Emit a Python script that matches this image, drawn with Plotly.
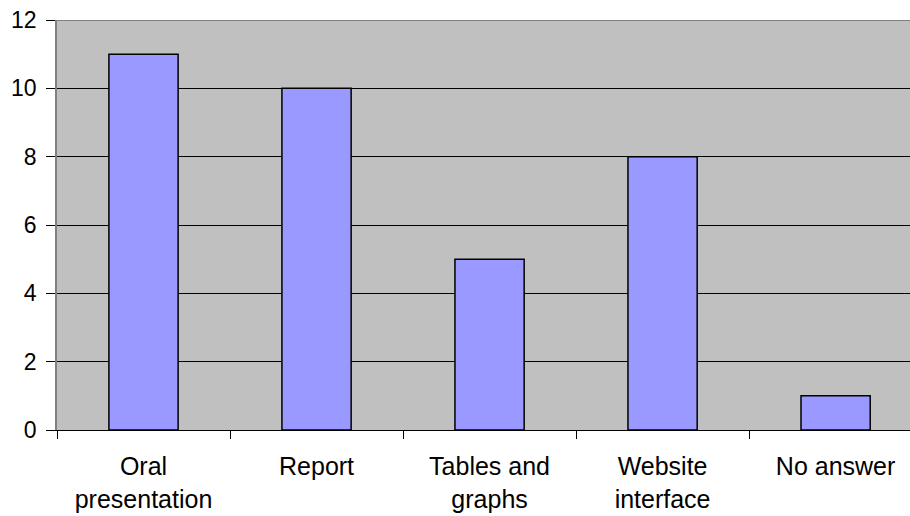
import plotly.graph_objects as go

categories = ["Oral<br>presentation", "Report", "Tables and<br>graphs", "Website<br>interface", "No answer"]
values = [11, 10, 5, 8, 1]
y_ticks = [0, 2, 4, 6, 8, 10, 12]

fig = go.Figure(go.Bar(
    x=categories, y=values, width=0.4,
    marker=dict(color="#9999FF", line=dict(color="black", width=1.5)),
))

font = "Liberation Sans, Arial, sans-serif"
fig.update_layout(
    width=910, height=516,
    margin=dict(l=57, r=0, t=20, b=86, autoexpand=False),
    paper_bgcolor="white", plot_bgcolor="#C0C0C0",
    showlegend=False,
    font=dict(family=font, color="black"),
)
fig.update_xaxes(
    type="category", range=[-0.5, 4.43], automargin=False,
    tickson="boundaries", ticks="outside", ticklen=8, tickcolor="black", tickwidth=1,
    showline=True, linecolor="black", linewidth=1,
    showgrid=False, tickfont=dict(size=25, family=font),
    ticklabelstandoff=14,
)
fig.update_yaxes(
    range=[0, 12], tickvals=y_ticks, automargin=False,
    ticks="outside", ticklen=9, tickcolor="black", tickwidth=1,
    showgrid=True, gridcolor="black", gridwidth=1,
    showline=True, linecolor="#808080", linewidth=1.5,
    zeroline=False, tickfont=dict(size=23, family=font),
    ticklabelstandoff=5,
)
fig.add_shape(type="line", xref="paper", yref="y", x0=0, x1=1, y0=12, y1=12,
              line=dict(color="#808080", width=2), layer="above")
fig.write_html("out.html", post_script="document.body.style.margin='0';",
               config={"displayModeBar": False})
